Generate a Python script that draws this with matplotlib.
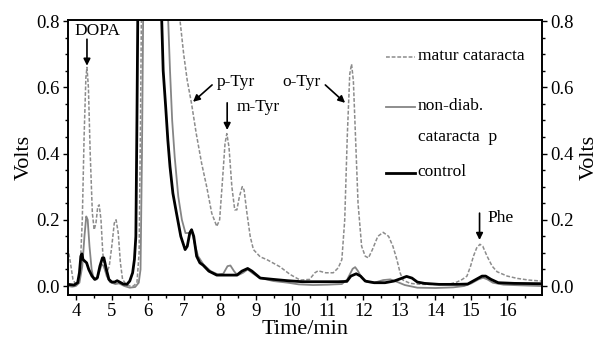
import numpy as np
import matplotlib.pyplot as plt
from matplotlib.ticker import MultipleLocator
from matplotlib.lines import Line2D

plt.rcParams['font.family'] = ['Liberation Serif', 'DejaVu Serif']

# matur cataracta (dashed grey)
t_matur = [3.78, 3.85, 3.92, 3.98, 4.05, 4.12, 4.18, 4.23, 4.28, 4.31, 4.35, 4.40, 4.46, 4.51,
           4.56, 4.61, 4.65, 4.70, 4.75, 4.80, 4.86, 4.93, 5.00, 5.07, 5.12, 5.18, 5.24, 5.30,
           5.40, 5.50, 5.60, 5.70, 5.76, 5.80, 5.83, 5.90, 6.50, 6.88,
           6.90, 7.00, 7.10, 7.22, 7.35, 7.50, 7.64, 7.78, 7.92, 8.00, 8.08, 8.15, 8.20, 8.26,
           8.34, 8.42, 8.48, 8.55, 8.63, 8.68, 8.76, 8.85, 8.94, 9.13, 9.31, 9.68, 9.96, 10.24,
           10.50, 10.65, 10.74, 10.95, 11.16, 11.30, 11.40, 11.48, 11.55, 11.62, 11.67, 11.72,
           11.78, 11.85, 11.95, 12.05, 12.14, 12.25, 12.40, 12.55, 12.70, 12.82, 12.93, 13.02,
           13.10, 13.30, 13.60, 14.00, 14.40, 14.60, 14.75, 14.88, 14.98, 15.06, 15.15, 15.24,
           15.32, 15.44, 15.58, 15.72, 16.00, 16.28, 16.60, 16.95]
v_matur = [0.115, 0.07, 0.02, 0.008, 0.01, 0.05, 0.2, 0.45, 0.63, 0.66, 0.6, 0.4, 0.22, 0.17,
           0.19, 0.24, 0.245, 0.2, 0.1, 0.05, 0.04, 0.06, 0.12, 0.19, 0.2, 0.16, 0.07, 0.02,
           0.005, 0.0, 0.0, 0.01, 0.1, 0.5, 0.9, 1.2, 1.2, 0.9,
           0.80, 0.70, 0.62, 0.55, 0.46, 0.37, 0.30, 0.22, 0.18, 0.20, 0.32, 0.43, 0.46, 0.42,
           0.30, 0.23, 0.23, 0.27, 0.30, 0.29, 0.22, 0.15, 0.11, 0.088, 0.08, 0.058, 0.035, 0.018,
           0.02, 0.04, 0.046, 0.04, 0.04, 0.055, 0.08, 0.2, 0.45, 0.64, 0.67, 0.62,
           0.45, 0.25, 0.12, 0.09, 0.085, 0.11, 0.15, 0.162, 0.15, 0.12, 0.08, 0.04,
           0.018, 0.008, 0.005, 0.005, 0.006, 0.012, 0.02, 0.03, 0.06, 0.09, 0.115, 0.126,
           0.12, 0.09, 0.06, 0.043, 0.03, 0.023, 0.018, 0.015]

# non-diab. cataracta p (solid grey)
t_nondiab = [3.78, 3.90, 4.00, 4.10, 4.18, 4.24, 4.29, 4.33, 4.38, 4.44, 4.50, 4.58, 4.66, 4.72,
             4.78, 4.86, 4.95, 5.10, 5.20, 5.35, 5.50, 5.65, 5.75, 5.80, 5.84, 5.88, 6.00, 6.50,
             6.57, 6.62, 6.68, 6.75, 6.85, 6.95, 7.05, 7.15, 7.22, 7.30, 7.40, 7.55, 7.75, 7.95,
             8.10, 8.22, 8.30, 8.40, 8.50, 8.65, 8.78, 8.90, 9.10, 9.50, 9.90, 10.20, 10.60, 11.00,
             11.40, 11.55, 11.70, 11.77, 11.85, 11.95, 12.10, 12.30, 12.55, 12.75, 12.95, 13.15,
             13.50, 14.00, 14.50, 14.80, 15.00, 15.20, 15.33, 15.45, 15.60, 15.90, 16.40, 16.95]
v_nondiab = [0.0, -0.002, 0.0, 0.01, 0.06, 0.15, 0.21, 0.2, 0.12, 0.05, 0.02, 0.02, 0.045, 0.065,
             0.06, 0.03, 0.012, 0.006, 0.008, 0.0, -0.005, -0.003, 0.01, 0.05, 0.4, 0.9, 1.2, 1.2,
             0.8, 0.65, 0.5, 0.39, 0.27, 0.2, 0.16, 0.16, 0.17, 0.13, 0.09, 0.065, 0.045, 0.035,
             0.037, 0.06, 0.062, 0.045, 0.032, 0.04, 0.05, 0.04, 0.025, 0.015, 0.01, 0.005, 0.003, 0.004,
             0.006, 0.02, 0.052, 0.057, 0.045, 0.025, 0.012, 0.01, 0.018, 0.02, 0.012, 0.003,
             -0.005, -0.006, -0.004, 0.0, 0.008, 0.02, 0.025, 0.02, 0.01, 0.004, 0.002, 0.0]

# control (thick black)
t_control = [3.78, 3.95, 4.05, 4.10, 4.14, 4.17, 4.20, 4.25, 4.30, 4.36, 4.45, 4.53, 4.60, 4.67,
             4.74, 4.78, 4.85, 4.92, 5.00, 5.08, 5.15, 5.22, 5.32, 5.42, 5.50, 5.58, 5.63, 5.67,
             5.70, 5.73, 5.80, 6.30, 6.39, 6.43, 6.50, 6.56, 6.62, 6.70, 6.80, 6.92, 7.04, 7.10,
             7.17, 7.22, 7.28, 7.36, 7.45, 7.54, 7.70, 7.92, 8.20, 8.48, 8.62, 8.78, 8.90, 9.13,
             9.50, 9.90, 10.30, 10.80, 11.30, 11.54, 11.65, 11.80, 11.92, 12.05, 12.30, 12.60,
             12.85, 13.03, 13.20, 13.35, 13.50, 13.70, 14.10, 14.60, 14.90, 15.10, 15.30, 15.40,
             15.55, 15.75, 16.20, 16.95]
v_control = [0.005, 0.003, 0.01, 0.04, 0.09, 0.097, 0.08, 0.075, 0.07, 0.05, 0.03, 0.02, 0.025, 0.06,
             0.085, 0.085, 0.05, 0.02, 0.012, 0.012, 0.016, 0.012, 0.006, 0.005, 0.015, 0.04, 0.08, 0.15,
             0.5, 0.9, 1.2, 1.2, 0.8, 0.65, 0.54, 0.44, 0.36, 0.28, 0.22, 0.15, 0.11, 0.12,
             0.16, 0.17, 0.15, 0.09, 0.07, 0.063, 0.045, 0.033, 0.033, 0.033, 0.045, 0.053, 0.045, 0.024,
             0.02, 0.016, 0.013, 0.013, 0.013, 0.014, 0.03, 0.037, 0.03, 0.015, 0.01, 0.01,
             0.015, 0.022, 0.029, 0.024, 0.012, 0.008, 0.005, 0.005, 0.006, 0.018, 0.03, 0.03,
             0.02, 0.01, 0.008, 0.007]

# peak labels: (text, text x, text y, arrow start, arrow end)
peaks = [
    ("DOPA", 3.97, 0.77, (4.31, 0.745), (4.31, 0.665)),
    ("p-Tyr", 7.93, 0.616, (7.79, 0.607), (7.26, 0.556)),
    ("m-Tyr", 8.46, 0.54, (8.21, 0.553), (8.21, 0.471)),
    ("o-Tyr", 9.74, 0.616, (10.94, 0.607), (11.49, 0.553)),
    ("Phe", 15.45, 0.205, (15.23, 0.22), (15.23, 0.139)),
]

fig = plt.figure(figsize=(6.01, 3.45), dpi=100)
ax = fig.add_axes([0.113, 0.145, 0.789, 0.797])

styles = [
    dict(color='#8c8c8c', lw=1.1, dashes=(2.5, 1.2)),
    dict(color='#858585', lw=1.3),
    dict(color='black', lw=2.0),
]
ax.plot(t_matur, v_matur, **styles[0])
ax.plot(t_nondiab, v_nondiab, **styles[1])
ax.plot(t_control, v_control, **styles[2])

ax.set_xlim(3.78, 16.97)
ax.set_ylim(-0.027, 0.803)
ax.xaxis.set_major_locator(MultipleLocator(1))
ax.xaxis.set_minor_locator(MultipleLocator(0.5))
ax.yaxis.set_major_locator(MultipleLocator(0.2))
ax.yaxis.set_minor_locator(MultipleLocator(0.05))
ax.yaxis.set_major_formatter(plt.FuncFormatter(lambda v, p: '%.1f' % v))

ax2 = ax.twinx()
ax2.set_ylim(ax.get_ylim())
ax2.yaxis.set_major_locator(MultipleLocator(0.2))
ax2.yaxis.set_minor_locator(MultipleLocator(0.05))
ax2.yaxis.set_major_formatter(plt.FuncFormatter(lambda v, p: '%.1f' % v))

for a in (ax, ax2):
    a.tick_params(which='major', length=3.5, width=1.0, labelsize=13.5, pad=2.5)
    a.tick_params(which='minor', length=2.5, width=1.0)
    for s in a.spines.values():
        s.set_linewidth(1.2)

ax.set_xlabel('Time/min', fontsize=16, labelpad=0)
ax.set_ylabel('Volts', fontsize=16, labelpad=2)
ax2.set_ylabel('Volts', fontsize=16, rotation=90, labelpad=4)

for name, tx, ty, a0, a1 in peaks:
    ax.text(tx, ty, name, fontsize=12.5, ha='left', va='center')
    ax.annotate('', xy=a1, xytext=a0,
                arrowprops=dict(arrowstyle='-|>', color='black', lw=1.2,
                                mutation_scale=10, shrinkA=0, shrinkB=0))

# legend, placed by hand in axes fractions
leg_labels = ['matur cataracta', 'non-diab.', 'control']
leg_rows = [0.865, 0.684, 0.444]
for st, lab, yy in zip(styles, leg_labels, leg_rows):
    ax.add_line(Line2D([0.671, 0.732], [yy, yy], transform=ax.transAxes, **st))
    ax.text(0.738, yy + 0.005, lab, transform=ax.transAxes, fontsize=12.5,
            ha='left', va='center')
ax.text(0.738, 0.576, 'cataracta  p', transform=ax.transAxes, fontsize=12.5,
        ha='left', va='center')

fig.savefig('out.png', dpi=100)
